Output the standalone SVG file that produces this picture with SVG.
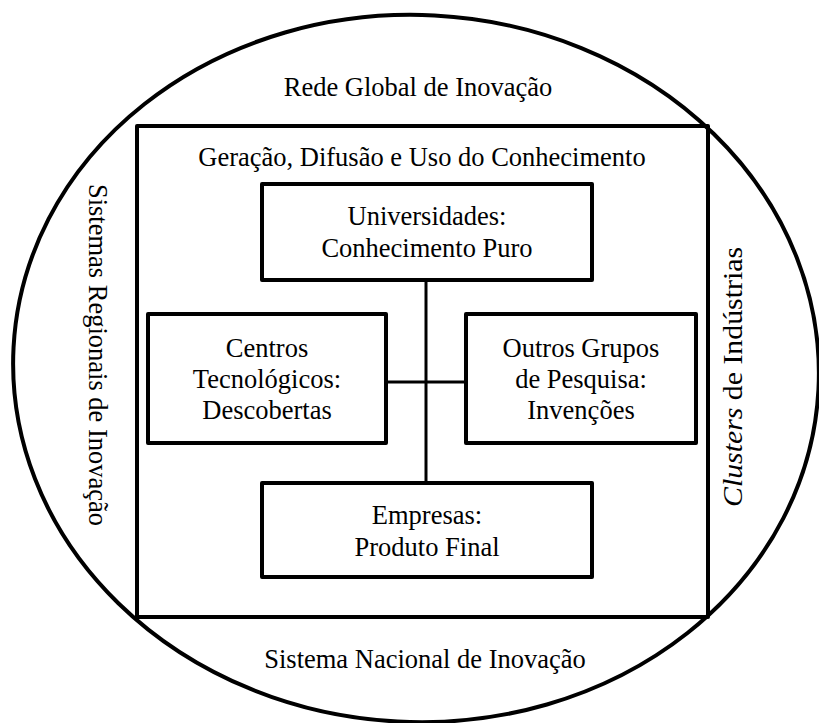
<svg xmlns="http://www.w3.org/2000/svg" width="819" height="723" viewBox="0 0 819 723">
  <style>
    .frame { fill: none; stroke: #000; stroke-width: 4; stroke-linejoin: round; }
    .box { fill: #fff; stroke: #000; stroke-width: 4; stroke-linejoin: round; }
    .link { fill: none; stroke: #000; stroke-width: 3; }
    text { font-family: "Liberation Serif", "Times New Roman", serif; font-size: 26.5px; fill: #000; text-anchor: middle; }
  </style>
  <rect width="819" height="723" fill="#fff"/>

  <!-- outer oval: global network -->
  <g id="oval">
    <ellipse class="frame" cx="416" cy="368.5" rx="403" ry="353.5" transform="rotate(3 416 368.5)"/>
    <text x="418" y="96">Rede Global de Inovação</text>
    <text x="425" y="668">Sistema Nacional de Inovação</text>
    <text transform="translate(88.5 355) rotate(90)">Sistemas Regionais de Inovação</text>
    <text transform="translate(742 377) rotate(-90)" textLength="260" lengthAdjust="spacingAndGlyphs"><tspan font-style="italic">Clusters</tspan> de Indústrias</text>
  </g>

  <!-- knowledge frame -->
  <g id="knowledge">
    <rect class="frame" x="137" y="126" width="571" height="491"/>
    <text x="422" y="166">Geração, Difusão e Uso do Conhecimento</text>
  </g>

  <!-- connectors -->
  <g id="connectors">
    <line class="link" x1="426" y1="280" x2="426" y2="483"/>
    <line class="link" x1="386" y1="382" x2="466" y2="382"/>
  </g>

  <g id="universidades">
    <rect class="box" x="262" y="184" width="330" height="96"/>
    <text x="427" y="225">Universidades:</text>
    <text x="427" y="257">Conhecimento Puro</text>
  </g>

  <g id="centros">
    <rect class="box" x="148" y="314" width="238" height="129"/>
    <text x="267" y="357">Centros</text>
    <text x="267" y="388">Tecnológicos:</text>
    <text x="267" y="419">Descobertas</text>
  </g>

  <g id="outros">
    <rect class="box" x="466" y="314" width="230" height="129"/>
    <text x="581" y="357">Outros Grupos</text>
    <text x="581" y="388">de Pesquisa:</text>
    <text x="581" y="419">Invenções</text>
  </g>

  <g id="empresas">
    <rect class="box" x="262" y="483" width="330" height="94"/>
    <text x="427" y="524">Empresas:</text>
    <text x="427" y="556">Produto Final</text>
  </g>
</svg>
